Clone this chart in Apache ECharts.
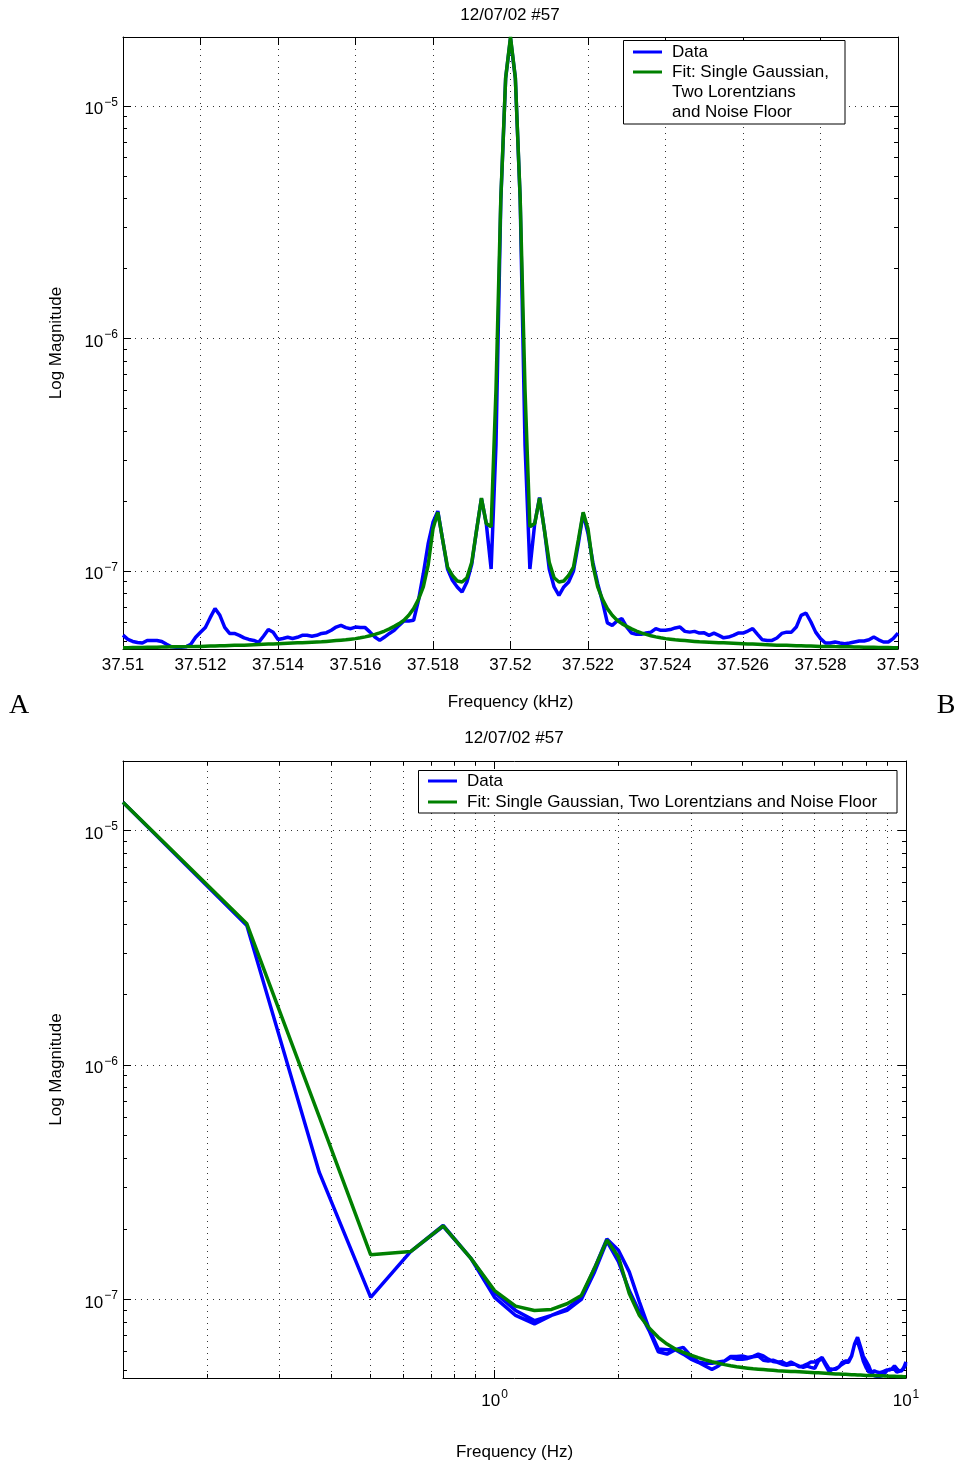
<!DOCTYPE html>
<html>
<head>
<meta charset="utf-8">
<title>12/07/02 #57</title>
<script src="https://cdn.jsdelivr.net/npm/echarts@6.0.0/dist/echarts.min.js"></script>
<style>
  html, body { margin: 0; padding: 0; background: #fff; }
  #box { width: 965px; height: 1473px; }
</style>
</head>
<body>
<div id="box"></div>
<script>
// spectrum around 37.52 kHz, 80 bins each side, 0.125 Hz per bin
const centerKHz = 37.52;
const stepHz = 0.125;
const nSide = 80;

// measured magnitude (units of 1e-8), 37.51 kHz -> 37.53 kHz
const dataMag = [
  5.30, 5.08, 4.98, 4.93, 4.90, 5.03, 5.03, 5.03, 4.98, 4.84,
  4.72, 4.70, 4.70, 4.72, 4.84, 5.19, 5.45, 5.72, 6.30, 6.90,
  6.45, 5.72, 5.39, 5.39, 5.29, 5.16, 5.08, 5.03, 4.93, 5.24,
  5.60, 5.45, 5.08, 5.13, 5.19, 5.13, 5.19, 5.29, 5.29, 5.24,
  5.29, 5.39, 5.43, 5.56, 5.74, 5.84, 5.71, 5.65, 5.74, 5.71,
  5.71, 5.46, 5.20, 5.03, 5.20, 5.39, 5.56, 5.84, 6.10, 6.10,
  6.14, 7.48, 9.74, 13.1, 16.2, 18.1, 13.6, 10.2, 9.12, 8.54,
  8.12, 8.97, 10.7, 15.0, 20.5, 16.0, 10.2, 34.8, 393, 1320,
  1950,
  1320, 393, 34.8, 10.2, 16.0, 20.7, 15.0, 10.2, 8.54, 7.86,
  8.54, 8.97, 10.0, 13.1, 17.7, 14.5, 10.9, 8.83, 7.36, 5.98,
  5.84, 6.10, 6.24, 5.74, 5.41, 5.34, 5.34, 5.41, 5.46, 5.65,
  5.56, 5.56, 5.60, 5.69, 5.74, 5.50, 5.46, 5.50, 5.41, 5.42,
  5.29, 5.41, 5.29, 5.16, 5.20, 5.29, 5.41, 5.41, 5.52, 5.65,
  5.34, 5.06, 5.03, 5.03, 5.15, 5.39, 5.46, 5.46, 5.74, 6.45,
  6.60, 6.05, 5.46, 5.12, 4.90, 4.90, 4.95, 4.90, 4.87, 4.90,
  4.95, 5.00, 5.00, 5.06, 5.20, 5.06, 4.95, 4.95, 5.12, 5.41
];

// fitted curve (units of 1e-8), symmetric: offset 0 Hz -> 10 Hz
const fitHalf = [
  1980,
  1320, 400, 60.0, 15.5, 16.0, 20.6, 15.0, 10.9, 9.36, 8.97,
  9.06, 9.58, 10.4, 13.6, 17.9, 15.2, 10.6, 8.54, 7.55, 6.89,
  6.45, 6.14, 5.94, 5.78, 5.64, 5.52, 5.42, 5.34, 5.27, 5.21,
  5.16, 5.12, 5.09, 5.06, 5.04, 5.02, 5.00, 4.98, 4.96, 4.95,
  4.94, 4.93, 4.92, 4.91, 4.90, 4.89, 4.88, 4.87, 4.86, 4.85,
  4.84, 4.83, 4.82, 4.81, 4.80, 4.79, 4.79, 4.78, 4.77, 4.77,
  4.76, 4.76, 4.75, 4.74, 4.74, 4.73, 4.73, 4.72, 4.72, 4.72,
  4.71, 4.71, 4.70, 4.70, 4.70, 4.69, 4.69, 4.69, 4.68, 4.68
];

const yMin = 4.62e-8;
const yMax = 1.98e-5;
const fitName = 'Fit: Single Gaussian, Two Lorentzians and Noise Floor';

// top: vs frequency; bottom: folded to |f - f0| in Hz
const topData = dataMag.map((v, i) => [centerKHz + (i - nSide) * stepHz / 1000, v * 1e-8]);
const topFit = dataMag.map((v, i) => [centerKHz + (i - nSide) * stepHz / 1000, fitHalf[Math.abs(i - nSide)] * 1e-8]);
const foldData = dataMag.map((v, i) => i === nSide ? ['-', '-'] : [Math.abs(i - nSide) * stepHz, v * 1e-8]);
const foldFit = dataMag.map((v, i) => i === nSide ? ['-', '-'] : [Math.abs(i - nSide) * stepHz, fitHalf[Math.abs(i - nSide)] * 1e-8]);

// minor grid positions (2..9 x 10^n)
const yMinor = [];
[-8, -7, -6, -5].forEach(d => {
  for (let m = 2; m <= 9; m++) {
    const v = m * Math.pow(10, d);
    if (v > yMin && v < yMax) yMinor.push(v);
  }
});
const xMinor = [];
[-1, 0].forEach(d => {
  for (let m = 2; m <= 9; m++) xMinor.push(m * Math.pow(10, d));
});

const font = '"Liberation Sans", Arial, sans-serif';
const ink = '#000';
const dotted = { color: '#333', width: 1, type: [1, 5] };

function powLabel(v) {
  const e = Math.log10(v);
  const r = Math.round(e);
  if (Math.abs(e - r) > 1e-6) return '';
  return '{b|10}{s|' + (r < 0 ? '\u2212' + (-r) : r) + '}';
}
const powRich = {
  b: { fontSize: 17, fontFamily: font, color: ink, padding: [7, 0, 0, 0] },
  s: { fontSize: 12, fontFamily: font, color: ink, padding: [0, 0, 7, 1] }
};

const axisLine = { show: true, onZero: false, lineStyle: { color: ink, width: 1 } };
const tickIn = { show: true, inside: true, length: 8, lineStyle: { color: ink, width: 1 } };
const minorIn = { show: true, splitNumber: 9, length: 4, lineStyle: { color: ink, width: 1 } };
const nameStyle = { fontSize: 17, fontFamily: font, color: ink };
const titleStyle = { fontSize: 17, fontWeight: 'normal', fontFamily: font, color: ink };

function minorLines(items) {
  return {
    silent: true,
    symbol: 'none',
    z: 1,
    animation: false,
    label: { show: false },
    emphasis: { disabled: true },
    lineStyle: dotted,
    data: items
  };
}

function drawCharts() {
  const myCharts = echarts.init(document.getElementById('box'));
  const option = {
    animation: false,
    backgroundColor: '#fff',
    textStyle: { fontFamily: font },
    title: [
      { text: '12/07/02 #57', left: 510, top: 7, padding: 0, textAlign: 'center', textStyle: titleStyle },
      { text: '12/07/02 #57', left: 514, top: 730, padding: 0, textAlign: 'center', textStyle: titleStyle }
    ],
    legend: [
      {
        // two blank lines put the first text line level with the icon
        orient: 'vertical', left: 633, top: 22, padding: 0, itemGap: -40,
        itemWidth: 29, itemHeight: 3, icon: 'rect', selectedMode: false,
        textStyle: { fontSize: 17, fontFamily: font, color: ink, lineHeight: 20, padding: [0, 0, 0, 5] },
        formatter: name => name === fitName ? '\n\nFit: Single Gaussian,\nTwo Lorentzians\nand Noise Floor' : name,
        data: ['Data', fitName]
      },
      {
        orient: 'vertical', left: 428, top: 771, padding: 0, itemGap: 1,
        itemWidth: 29, itemHeight: 3, icon: 'rect', selectedMode: false,
        textStyle: { fontSize: 17, fontFamily: font, color: ink, lineHeight: 20, padding: [0, 0, 0, 5] },
        data: ['Data', fitName]
      }
    ],
    graphic: [
      { type: 'rect', z: 3, shape: { x: 623.5, y: 40.5, width: 221.5, height: 83.5 },
        style: { fill: '#fff', stroke: ink, lineWidth: 1 } },
      { type: 'rect', z: 3, shape: { x: 418.5, y: 770.5, width: 478.5, height: 42.5 },
        style: { fill: '#fff', stroke: ink, lineWidth: 1 } },
      { type: 'text', z: 3, style: { text: 'A', x: 19, y: 706, fill: ink, align: 'center', verticalAlign: 'middle',
        font: '28px "Liberation Serif", "DejaVu Serif", serif' } },
      { type: 'text', z: 3, style: { text: 'B', x: 946, y: 706, fill: ink, align: 'center', verticalAlign: 'middle',
        font: '28px "Liberation Serif", "DejaVu Serif", serif' } }
    ],
    grid: [
      { left: 123, top: 37, width: 775, height: 612 },
      { left: 123, top: 761, width: 783, height: 617 }
    ],
    xAxis: [
      {
        type: 'value', gridIndex: 0, position: 'bottom', min: 37.51, max: 37.53, interval: 0.002,
        name: 'Frequency (kHz)', nameLocation: 'middle', nameGap: 45, nameTextStyle: nameStyle,
        axisLine, axisTick: tickIn,
        axisLabel: { margin: 8, fontSize: 17, fontFamily: font, color: ink,
          formatter: v => String(+v.toFixed(3)) },
        splitLine: { show: true, lineStyle: dotted }
      },
      {
        type: 'value', gridIndex: 0, position: 'top', min: 37.51, max: 37.53, interval: 0.002,
        axisLine, axisTick: tickIn, axisLabel: { show: false }, splitLine: { show: false }
      },
      {
        type: 'log', logBase: 10, gridIndex: 1, position: 'bottom', min: 0.125, max: 10,
        name: 'Frequency (Hz)', nameLocation: 'middle', nameGap: 66, nameTextStyle: nameStyle,
        axisLine, axisTick: tickIn, minorTick: minorIn,
        axisLabel: { margin: 8, formatter: powLabel, rich: powRich },
        splitLine: { show: true, lineStyle: dotted }
      },
      {
        type: 'log', logBase: 10, gridIndex: 1, position: 'top', min: 0.125, max: 10,
        axisLine, axisTick: tickIn, minorTick: minorIn, axisLabel: { show: false }, splitLine: { show: false }
      }
    ],
    yAxis: [
      {
        type: 'log', logBase: 10, gridIndex: 0, position: 'left', min: yMin, max: yMax,
        name: 'Log Magnitude', nameLocation: 'middle', nameGap: 58, nameTextStyle: nameStyle,
        axisLine, axisTick: tickIn, minorTick: minorIn,
        axisLabel: { margin: 5, formatter: powLabel, rich: powRich },
        splitLine: { show: true, lineStyle: dotted }
      },
      {
        type: 'log', logBase: 10, gridIndex: 0, position: 'right', min: yMin, max: yMax,
        axisLine, axisTick: tickIn, minorTick: minorIn, axisLabel: { show: false }, splitLine: { show: false }
      },
      {
        type: 'log', logBase: 10, gridIndex: 1, position: 'left', min: yMin, max: yMax,
        name: 'Log Magnitude', nameLocation: 'middle', nameGap: 58, nameTextStyle: nameStyle,
        axisLine, axisTick: tickIn, minorTick: minorIn,
        axisLabel: { margin: 5, formatter: powLabel, rich: powRich },
        splitLine: { show: true, lineStyle: dotted }
      },
      {
        type: 'log', logBase: 10, gridIndex: 1, position: 'right', min: yMin, max: yMax,
        axisLine, axisTick: tickIn, minorTick: minorIn, axisLabel: { show: false }, splitLine: { show: false }
      }
    ],
    series: [
      {
        name: 'Data', type: 'line', xAxisIndex: 0, yAxisIndex: 0, z: 2,
        data: topData, showSymbol: false, symbol: 'none',
        lineStyle: { color: '#0000ff', width: 3.5 }, itemStyle: { color: '#0000ff' },
        markLine: minorLines(yMinor.map(v => ({ yAxis: v })))
      },
      {
        name: fitName, type: 'line', xAxisIndex: 0, yAxisIndex: 0, z: 3,
        data: topFit, showSymbol: false, symbol: 'none',
        lineStyle: { color: '#008000', width: 3.5 }, itemStyle: { color: '#008000' }
      },
      {
        name: 'Data', type: 'line', xAxisIndex: 2, yAxisIndex: 2, z: 2,
        data: foldData, showSymbol: false, symbol: 'none', connectNulls: false,
        lineStyle: { color: '#0000ff', width: 3.5 }, itemStyle: { color: '#0000ff' },
        markLine: minorLines(yMinor.map(v => ({ yAxis: v })).concat(xMinor.map(v => ({ xAxis: v }))))
      },
      {
        name: fitName, type: 'line', xAxisIndex: 2, yAxisIndex: 2, z: 3,
        data: foldFit, showSymbol: false, symbol: 'none', connectNulls: false,
        lineStyle: { color: '#008000', width: 3.5 }, itemStyle: { color: '#008000' }
      }
    ]
  };
  myCharts.setOption(option);
}

drawCharts();
</script>
</body>
</html>
